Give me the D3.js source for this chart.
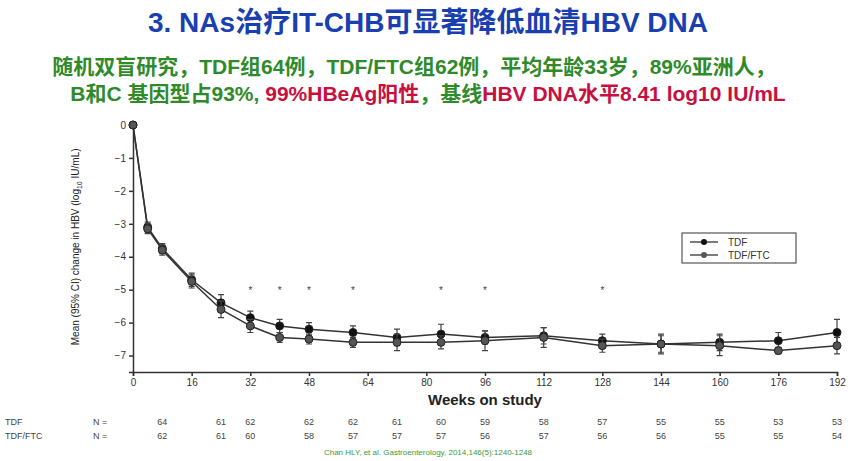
<!DOCTYPE html>
<html><head><meta charset="utf-8">
<script src="https://cdn.jsdelivr.net/npm/d3@7"></script>
<style>body{margin:0;background:#fff;font-family:"Liberation Sans","Noto Sans CJK SC",sans-serif}</style>
</head><body><svg id="c" width="856" height="461"></svg>
<script>
// data
const weeks = [0, 4, 8, 16, 24, 32, 40, 48, 60, 72, 84, 96, 112, 128, 144, 160, 176, 192];
const tdf = [0, -3.1, -3.75, -4.7, -5.4, -5.85, -6.1, -6.2, -6.3, -6.45, -6.35, -6.45, -6.4, -6.55, -6.65, -6.6, -6.55, -6.3];
const tdfErr = [0, 0.15, 0.15, 0.2, 0.25, 0.2, 0.2, 0.2, 0.2, 0.25, 0.3, 0.2, 0.25, 0.2, 0.3, 0.25, 0.25, 0.4];
const tdfFtc = [0, -3.15, -3.8, -4.75, -5.6, -6.1, -6.45, -6.5, -6.6, -6.6, -6.6, -6.55, -6.45, -6.7, -6.65, -6.7, -6.85, -6.7];
const ftcErr = [0, 0.15, 0.15, 0.2, 0.25, 0.2, 0.15, 0.15, 0.15, 0.25, 0.2, 0.3, 0.3, 0.2, 0.25, 0.3, 0.1, 0.25];
const starWeeks = [32, 40, 48, 60, 84, 96, 128];
const xTicks = [0, 16, 32, 48, 64, 80, 96, 112, 128, 144, 160, 176, 192];
const yTicks = [0, -1, -2, -3, -4, -5, -6, -7];
const nWeeks = [8, 24, 32, 48, 60, 72, 84, 96, 112, 128, 144, 160, 176, 192];
const nTdf = [64, 61, 62, 62, 62, 61, 60, 59, 58, 57, 55, 55, 53, 53];
const nFtc = [62, 61, 60, 58, 57, 57, 57, 56, 57, 56, 56, 55, 55, 54];

const svg = d3.select('#c');
const x = d3.scaleLinear().domain([0, 192]).range([133, 837]);
const y = d3.scaleLinear().domain([0, -7.5]).range([125, 372]);

// titles
svg.append('text').attr('x', 428).attr('y', 32).attr('text-anchor', 'middle')
    .attr('font-size', 28).attr('font-weight', 'bold').attr('fill', '#1a3fb0')
    .text('3. NAs治疗IT-CHB可显著降低血清HBV DNA');
const green = '#2f8a2a', red = '#c8103e';
svg.append('text').attr('x', 414).attr('y', 74).attr('text-anchor', 'middle')
    .attr('font-size', 21).attr('font-weight', 'bold').attr('fill', green)
    .text('随机双盲研究，TDF组64例，TDF/FTC组62例，平均年龄33岁，89%亚洲人，');
const t2 = svg.append('text').attr('x', 428).attr('y', 101).attr('text-anchor', 'middle')
    .attr('font-size', 21).attr('font-weight', 'bold');
[['B和C 基因型占93%, ', green], ['99%HBeAg阳性', red], ['，基线', green], ['HBV DNA水平8.41 log10 IU/mL', red]]
    .forEach(([s, c]) => t2.append('tspan').attr('fill', c).text(s));

// axes
const ax = svg.append('g').attr('transform', `translate(0,${y(-7.5)})`)
    .call(d3.axisBottom(x).tickValues(xTicks).tickSize(4));
const ay = svg.append('g').attr('transform', `translate(${x(0)},0)`)
    .call(d3.axisLeft(y).tickValues(yTicks).tickSize(4));
[ax, ay].forEach(g => {
    g.selectAll('path,line').attr('stroke', '#333').attr('stroke-width', 1.5);
    g.selectAll('text').attr('font-size', 10).attr('fill', '#333');
});
svg.append('text').attr('x', 485).attr('y', 405).attr('text-anchor', 'middle')
    .attr('font-size', 15).attr('font-weight', 'bold').attr('fill', '#222').text('Weeks on study');
svg.append('text').attr('transform', `translate(79,${y(-3.7)}) rotate(-90)`).attr('text-anchor', 'middle')
    .attr('font-size', 10).attr('fill', '#222')
    .html('Mean (95% CI) change in HBV (log<tspan font-size="7" dy="3">10</tspan><tspan dy="-3"> IU/mL)</tspan>');

// series
const series = [
    { vals: tdf, err: tdfErr, fill: '#111' },
    { vals: tdfFtc, err: ftcErr, fill: '#555' }
];
const line = d3.line().x((d, i) => x(weeks[i])).y(d => y(d));
series.forEach(s => {
    const g = svg.append('g');
    g.append('path').datum(s.vals).attr('d', line).attr('fill', 'none').attr('stroke', '#333').attr('stroke-width', 1.5);
    s.vals.forEach((v, i) => {
        if (s.err[i] > 0) {
            const cx = x(weeks[i]);
            g.append('path').attr('d', `M${cx},${y(v - s.err[i])}V${y(v + s.err[i])}M${cx - 3},${y(v - s.err[i])}h6M${cx - 3},${y(v + s.err[i])}h6`)
                .attr('stroke', '#444').attr('stroke-width', 1.2).attr('fill', 'none');
        }
        g.append('circle').attr('cx', x(weeks[i])).attr('cy', y(v)).attr('r', 4)
            .attr('fill', s.fill).attr('stroke', '#222').attr('stroke-width', 1);
    });
});

// significance stars
svg.selectAll('.star').data(starWeeks).join('text').attr('x', d => x(d)).attr('y', y(-5) + 4)
    .attr('text-anchor', 'middle').attr('font-size', 10).attr('fill', '#444').text('*');

// legend
const lg = svg.append('g').attr('transform', 'translate(682,233)');
lg.append('rect').attr('width', 114).attr('height', 30).attr('fill', '#fff').attr('stroke', '#555').attr('stroke-width', 1.2);
[['TDF', '#111'], ['TDF/FTC', '#555']].forEach(([n, c], i) => {
    const yy = 9 + i * 13;
    lg.append('line').attr('x1', 8).attr('x2', 36).attr('y1', yy).attr('y2', yy).attr('stroke', '#333').attr('stroke-width', 1.3);
    lg.append('circle').attr('cx', 22).attr('cy', yy).attr('r', 3).attr('fill', c);
    lg.append('text').attr('x', 46).attr('y', yy + 4).attr('font-size', 10).attr('fill', '#333').text(n);
});

// N at risk rows
[['TDF', nTdf, 425], ['TDF/FTC', nFtc, 439]].forEach(([lab, arr, yy]) => {
    svg.append('text').attr('x', 5).attr('y', yy).attr('font-size', 9).attr('fill', '#444').text(lab);
    svg.append('text').attr('x', 93).attr('y', yy).attr('font-size', 9).attr('fill', '#444').text('N =');
    svg.selectAll(null).data(arr).join('text').attr('x', (d, i) => x(nWeeks[i])).attr('y', yy)
        .attr('text-anchor', 'middle').attr('font-size', 9).attr('fill', '#444').text(d => d);
});
svg.append('text').attr('x', 428).attr('y', 455).attr('text-anchor', 'middle').attr('font-size', 8)
    .attr('fill', '#3a9a3a').text('Chan HLY, et al. Gastroenterology, 2014,146(5):1240-1248');
</script></body></html>
